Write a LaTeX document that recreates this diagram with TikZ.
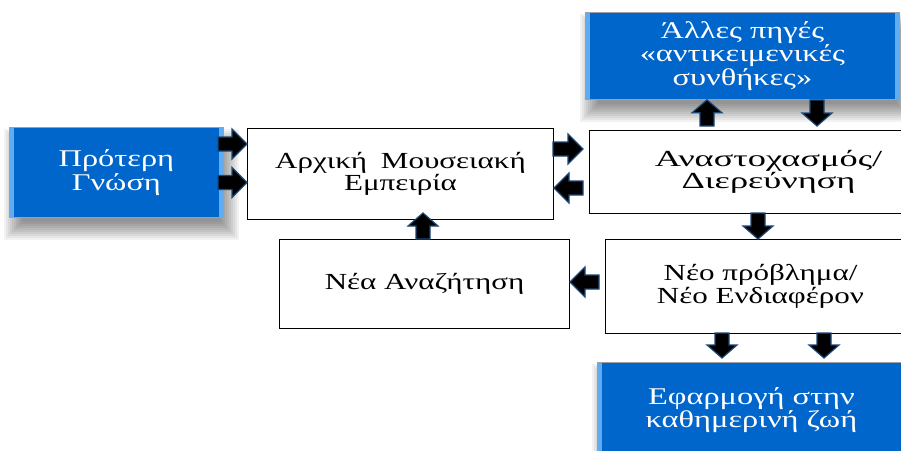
\documentclass[tikz,border=0pt]{standalone}
\usepackage{fontspec}
\setmainfont{Liberation Serif}[FakeStretch=1.35]
\newfontfamily\widefont{Liberation Serif}[FakeStretch=1.58]
\usetikzlibrary{calc}

\definecolor{boxblue}{RGB}{0,102,204}
\definecolor{bevelblue}{RGB}{96,172,240}
\definecolor{arrowedge}{RGB}{28,72,120}

\tikzset{
  boxtext/.style={align=center, inner sep=0pt, font=\fontsize{23pt}{22.5pt}\selectfont},
  whitebox/.style={boxtext, draw=black, line width=1pt, fill=white, anchor=north west},
  bluebox/.style={boxtext, font=\fontsize{24pt}{23.5pt}\selectfont, draw=gray!75, line width=0.8pt, fill=boxblue, text=white, anchor=north west},
  blockarrow/.style={fill=black, draw=arrowedge, line width=1.2pt, line join=miter},
}

% soft drop shadow under a node
\newcommand\boxshadow[1]{%
  \foreach \d in {-8,-6,...,10}{%
    \fill[black, opacity=0.05]
      ($(#1.north west)+(5-\d,12-\d)$) rectangle ($(#1.south east)+(5+\d,12+\d)$);
  }%
}
% light bevel stripes on the left and right edges of a blue box
\newcommand\bevel[1]{%
  \fill[bevelblue] ([xshift=1.2pt,yshift=-1.2pt]#1.north west) rectangle ([xshift=4.5pt,yshift=1.2pt]#1.south west);
  \fill[bevelblue] ([xshift=-4.5pt,yshift=-1.2pt]#1.north east) rectangle ([xshift=-1.2pt,yshift=1.2pt]#1.south east);
}
% horizontal block arrow: tail at #1, tip at the x of #2
\newcommand\harrow[2]{%
  \draw[blockarrow] let \p1=(#1), \p2=(#2), \n1={sign(\x2-\x1)} in
    (\x1,{\y1+7pt}) -- ({\x2-(\n1)*15pt},{\y1+7pt}) -- ({\x2-(\n1)*15pt},{\y1+15pt})
    -- (\x2,\y1) -- ({\x2-(\n1)*15pt},{\y1-15pt}) -- ({\x2-(\n1)*15pt},{\y1-7pt})
    -- (\x1,{\y1-7pt}) -- cycle;
}
% vertical block arrow: tail at #1, tip at the y of #2
\newcommand\varrow[2]{%
  \draw[blockarrow] let \p1=(#1), \p2=(#2), \n1={sign(\y2-\y1)} in
    ({\x1+7pt},\y1) -- ({\x1+7pt},{\y2-(\n1)*13pt}) -- ({\x1+15pt},{\y2-(\n1)*13pt})
    -- (\x1,\y2) -- ({\x1-15pt},{\y2-(\n1)*13pt}) -- ({\x1-7pt},{\y2-(\n1)*13pt})
    -- ({\x1-7pt},\y1) -- cycle;
}

\begin{document}
\begin{tikzpicture}[x=1pt, y=-1pt]
  \useasboundingbox (0,0) rectangle (901,450);
  \clip (0,0) rectangle (901,450);
  \fill[white] (0,0) rectangle (901,450);

  % white process boxes
  \node[whitebox, minimum width=306pt, minimum height=91pt] (arxiki) at (247,128) {Αρχική\hspace{0.6em}Μουσειακή\\Εμπειρία};
  \node[whitebox, font=\widefont\fontsize{23pt}{22.5pt}\selectfont, minimum width=358pt, minimum height=83pt] (ana) at (589,130) {Αναστοχασμός/\\Διερεύνηση};
  \node[whitebox, minimum width=290pt, minimum height=89pt] (nea) at (279,239) {Νέα Αναζήτηση};
  \node[whitebox, minimum width=310pt, minimum height=94pt] (neo) at (605,239) {Νέο πρόβλημα/\\Νέο Ενδιαφέρον};

  % blue boxes with their shadows
  \path (9,127) coordinate (priorNW) (585,12) coordinate (allesNW) (597,362) coordinate (appNW);
  \begin{scope}
    \path (priorNW) node[bluebox, draw=none, fill=none, minimum width=214pt, minimum height=90pt] (prior) {};
    \path (allesNW) node[bluebox, draw=none, fill=none, minimum width=314pt, minimum height=87pt] (alles) {};
    \path (appNW) node[bluebox, draw=none, fill=none, minimum width=308pt, minimum height=95pt] (app) {};
    \boxshadow{prior}
    \boxshadow{alles}
    \boxshadow{app}
  \end{scope}
  \node[bluebox, minimum width=214pt, minimum height=90pt] at (priorNW) {Πρότερη\\Γνώση};
  \node[bluebox, minimum width=314pt, minimum height=87pt] at (allesNW) {Άλλες πηγές\\«αντικειμενικές\\συνθήκες»};
  \node[bluebox, minimum width=308pt, minimum height=95pt] at (appNW) {Εφαρμογή στην\\καθημερινή ζωή};
  \bevel{prior}
  \bevel{alles}
  \bevel{app}

  % arrow tails
  \coordinate (t1) at (218,144);
  \coordinate (t2) at (218,182.5);
  \coordinate (t3) at (553,149);
  \coordinate (t4) at (583,188);
  \coordinate (t5) at (707,126);
  \coordinate (t6) at (817,100);
  \coordinate (t7) at (758,213);
  \coordinate (t8) at (599,282);
  \coordinate (t9) at (423,239);
  \coordinate (t10) at (722,333);
  \coordinate (t11) at (824,333);

  % connectors
  \harrow{t1}{arxiki.west}
  \harrow{t2}{arxiki.west}
  \harrow{t3}{[xshift=-6pt]ana.west}
  \harrow{t4}{arxiki.east}
  \varrow{t5}{alles.south}
  \varrow{t6}{[yshift=4pt]ana.north}
  \varrow{t7}{neo.north}
  \harrow{t8}{nea.east}
  \varrow{t9}{[yshift=7pt]arxiki.south}
  \varrow{t10}{[yshift=4pt]app.north}
  \varrow{t11}{[yshift=4pt]app.north}
\end{tikzpicture}
\end{document}
